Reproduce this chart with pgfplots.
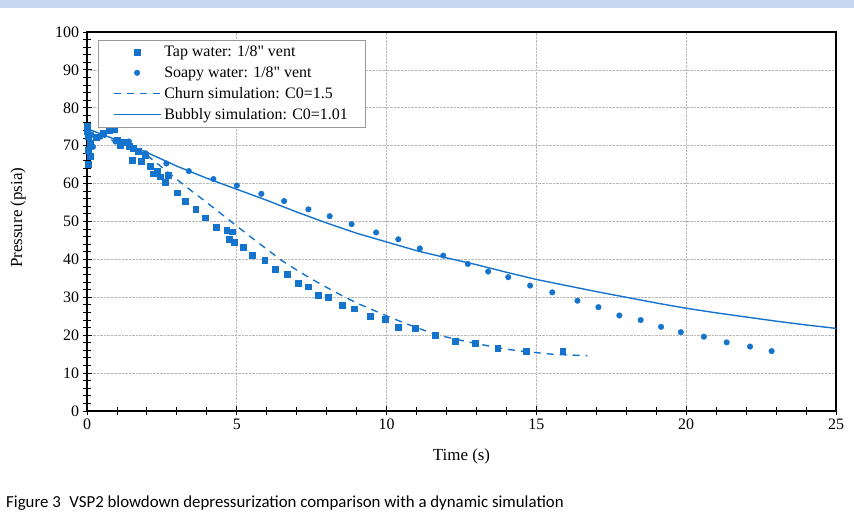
\documentclass[border=0pt]{standalone}
\usepackage{pgfplots}
\pgfplotsset{compat=1.18}
\usepackage{fontspec}
\setmainfont{Liberation Serif}
\newfontfamily\capfont{Carlito}
\definecolor{ser}{RGB}{20,115,205}
\definecolor{band}{RGB}{197,216,240}
\pgfplotsset{
  marklegend/.style={legend image code/.code={\draw[##1] plot coordinates {(23bp,0bp)};}},
  linelegend/.style={legend image code/.code={\draw[##1] (0bp,0bp) -- (47bp,0bp);}},
}
\begin{document}
\begin{tikzpicture}[x=1bp,y=1bp]
\path[use as bounding box] (0,0) rectangle (854,519);
\fill[band] (0,511) rectangle (854,519);
\begin{axis}[
  at={(87bp,108bp)}, anchor=south west,
  scale only axis, width=749bp, height=379bp,
  xmin=0, xmax=25, ymin=0, ymax=100,
  xtick={0,5,...,25}, ytick={0,10,...,100},
  minor xtick={0,1,...,25}, minor ytick={0,2,...,100},
  xtick pos=bottom, ytick pos=left,
  tick align=center,
  major tick length=9bp, minor tick length=8bp,
  every tick/.style={black, line width=0.9pt},
  axis line style={line width=1.3pt},
  grid=major,
  major grid style={densely dotted, gray!55, line width=0.7pt},
  /pgf/number format/assume math mode=true,
  tick label style={font=\fontsize{16}{18}\selectfont},
  label style={font=\fontsize{17}{19}\selectfont},
  xlabel={Time (s)},
  ylabel={Pressure (psia)},
  xlabel style={at={(axis description cs:0.5,-0.119)}, anchor=center},
  ylabel style={at={(axis description cs:-0.092,0.51)}, anchor=center, rotate=0},
  legend style={at={(axis description cs:0.015,0.979)}, anchor=north west,
    font=\fontsize{16}{18}\selectfont, draw=gray!80,
    row sep=3.5bp, inner xsep=15bp, inner ysep=3.5bp,
    nodes={inner sep=2.5bp}},
  legend cell align=left,
]
\addplot[only marks, mark=square*, mark size=2.9bp, color=ser, marklegend] coordinates {
  (0,75.2) (0,73.8) (0.05,72.4) (0.1,70.6) (0.05,68.8) (0.1,67.2) (0.05,65.2)
  (0.3,72.2) (0.55,73.4) (0.75,74.0) (0.9,74.3)
  (1.0,71.5) (1.1,70.0) (1.25,71.0) (1.4,69.8) (1.55,69.4) (1.7,68.6)
  (1.5,66.2) (1.8,65.9) (1.95,67.4) (2.1,64.6) (2.2,62.6) (2.35,63.3)
  (2.45,61.8) (2.6,60.3) (2.7,62.2) (3.0,57.6)
  (3.27,55.4) (3.63,53.2) (3.94,51.0) (4.30,48.5) (4.66,47.7) (4.85,47.3)
  (4.75,45.3) (4.91,44.6) (5.22,43.3) (5.51,41.2) (5.93,39.8) (6.27,37.5)
  (6.69,36.1) (7.05,33.8) (7.39,32.8) (7.72,30.6) (8.05,30.1) (8.52,28.0)
  (8.92,27.0) (9.45,25.1) (9.95,24.3) (10.39,22.2) (10.95,21.9) (11.62,20.1)
  (12.28,18.5) (12.95,17.8) (13.71,16.5) (14.65,15.8) (15.88,15.8)
};
\addlegendentry{Tap water: 1/8\textquotedbl{} vent}
\addplot[only marks, mark=*, mark size=2.8bp, color=ser, mark options={solid, line width=0.4pt}, marklegend] coordinates {
  (0.15,72.8) (0.2,69.7) (0.45,72.4) (0.95,71.1) (1.4,71.1) (1.95,68.0)
  (2.65,65.3) (3.4,63.3) (4.22,61.2) (5.0,59.5) (5.82,57.3) (6.58,55.4)
  (7.39,53.2) (8.10,51.4) (8.83,49.3) (9.65,47.1) (10.39,45.3) (11.11,42.9)
  (11.89,41.0) (12.71,38.8) (13.39,36.8) (14.06,35.3) (14.79,33.1) (15.53,31.3)
  (16.37,29.1) (17.07,27.4) (17.77,25.2) (18.48,24.0) (19.16,22.2) (19.82,20.8)
  (20.59,19.6) (21.35,18.1) (22.13,17.0) (22.85,15.8)
};
\addlegendentry{Soapy water: 1/8\textquotedbl{} vent}
\addplot[color=ser, line width=1.4pt, dash pattern=on 7bp off 6bp, linelegend] coordinates {
  (0,74) (0.5,72.5) (1,71) (1.5,69.5) (2,67.5) (2.5,64.3) (3,61.1) (3.5,58.0)
  (4,55.0) (4.5,51.9) (5,48.8) (5.5,45.7) (6,42.7) (6.5,39.7) (7,37.2)
  (7.5,34.8) (8,32.6) (8.5,30.5) (9,28.5) (9.5,26.8) (10,25.1) (10.5,23.5)
  (11,22.0) (11.5,20.6) (12,19.5) (12.5,18.6) (13,17.8) (13.5,17.0) (14,16.3)
  (14.5,15.8) (15,15.4) (15.5,15.0) (16,14.8) (16.7,14.6)
};
\addlegendentry{Churn simulation: C0=1.5}
\addplot[color=ser, line width=1.4pt, linelegend] coordinates {
  (0,74.5) (1,71.5) (2,68.2) (3,64.6) (4,61.4) (5,58.5) (6,55.6) (7,52.5)
  (8,49.6) (9,46.9) (10,44.6) (11,42.3) (12,40.4) (13,38.6) (14,36.6)
  (15,34.7) (16,33.1) (17,31.5) (18,30.0) (19,28.5) (20,27.1) (21,25.9)
  (22,24.8) (23,23.7) (24,22.7) (25,21.8)
};
\addlegendentry{Bubbly simulation: C0=1.01}
\end{axis}
\node[anchor=west, font=\capfont\fontsize{16.9}{19}\selectfont, inner sep=0pt] at (6,16)
  {Figure 3\enspace VSP2 blowdown depressurization comparison with a dynamic simulation};
\end{tikzpicture}
\end{document}
